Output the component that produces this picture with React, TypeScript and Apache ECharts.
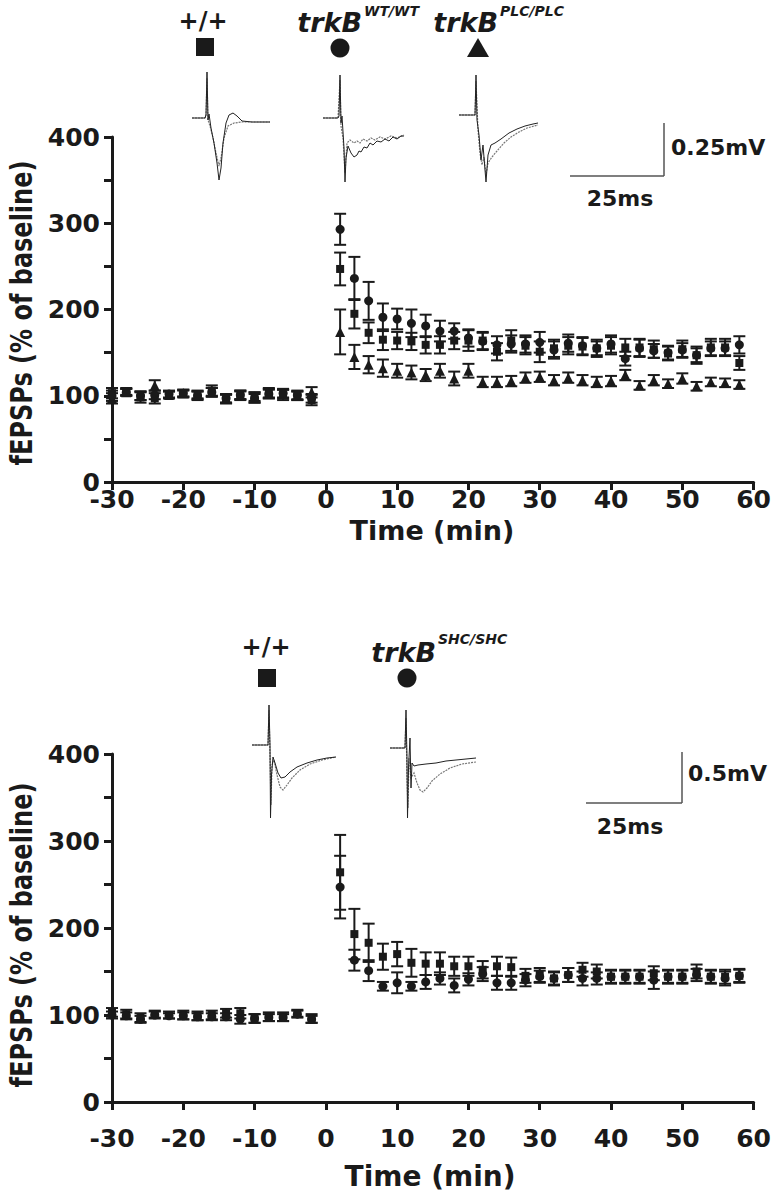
import React, { useEffect, useRef } from "react";
import * as echarts from "echarts";

// ---------- data ----------
const baseTimes = [-30, -28, -26, -24, -22, -20, -18, -16, -14, -12, -10, -8, -6, -4, -2];
const postTimes = [2, 4, 6, 8, 10, 12, 14, 16, 18, 20, 22, 24, 26, 28, 30, 32, 34, 36, 38, 40, 42, 44, 46, 48, 50, 52, 54, 56, 58];

// Top panel: +/+ (square), trkB WT/WT (circle), trkB PLC/PLC (triangle)
const topSqBase = [103, 105, 98, 97, 101, 102, 101, 106, 96, 100, 98, 103, 101, 100, 95];
const topSqBaseErr = [6, 4, 6, 6, 4, 4, 5, 6, 5, 5, 6, 6, 6, 5, 6];
const topSqPost = [247, 195, 173, 165, 164, 163, 159, 159, 164, 164, 164, 151, 164, 158, 151, 155, 158, 157, 155, 158, 156, 156, 154, 149, 154, 147, 156, 156, 138];
const topSqPostErr = [19, 17, 12, 12, 10, 10, 10, 10, 10, 12, 10, 10, 12, 10, 12, 10, 10, 10, 10, 10, 10, 10, 10, 8, 10, 10, 10, 10, 8];

const topCiBase = [100, 104, 100, 101, 102, 103, 100, 104, 97, 101, 97, 102, 103, 101, 97];
const topCiBaseErr = [6, 4, 5, 5, 4, 4, 5, 5, 5, 5, 5, 5, 5, 5, 5];
const topCiPost = [293, 236, 210, 191, 189, 184, 181, 175, 175, 167, 163, 159, 160, 160, 162, 153, 161, 158, 155, 160, 143, 155, 152, 150, 153, 147, 155, 155, 159];
const topCiPostErr = [18, 25, 22, 16, 12, 16, 13, 12, 9, 10, 10, 10, 10, 10, 12, 10, 10, 10, 8, 10, 8, 10, 8, 8, 8, 8, 8, 8, 10];

const topTrBase = [97, 104, 100, 112, 101, 103, 101, 104, 97, 101, 99, 103, 102, 100, 104];
const topTrBaseErr = [6, 4, 5, 6, 4, 4, 4, 5, 5, 5, 5, 5, 5, 5, 6];
const topTrPost = [174, 145, 136, 132, 129, 127, 124, 129, 120, 129, 116, 116, 117, 121, 122, 118, 121, 118, 116, 117, 124, 112, 118, 114, 120, 111, 116, 115, 113];
const topTrPostErr = [26, 14, 10, 10, 8, 8, 7, 8, 8, 8, 6, 6, 6, 6, 6, 6, 6, 6, 6, 6, 6, 5, 6, 5, 6, 5, 5, 5, 5];

// Bottom panel: +/+ (square), trkB SHC/SHC (circle)
const botSqBase = [103, 101, 97, 101, 100, 100, 99, 100, 102, 102, 96, 98, 98, 102, 96];
const botSqBaseErr = [5, 5, 5, 4, 4, 5, 5, 5, 5, 6, 5, 5, 5, 4, 5];
const botSqPost = [264, 193, 183, 167, 170, 160, 159, 159, 156, 156, 152, 156, 155, 145, 146, 142, 146, 152, 150, 144, 144, 144, 148, 144, 144, 150, 144, 144, 145];
const botSqPostErr = [43, 29, 22, 15, 14, 16, 13, 13, 11, 11, 10, 11, 11, 8, 8, 8, 8, 8, 8, 8, 8, 8, 8, 8, 8, 8, 8, 8, 8];

const botCiBase = [100, 99, 95, 100, 99, 99, 98, 98, 98, 95, 96, 97, 97, 101, 95];
const botCiBaseErr = [4, 4, 4, 4, 3, 4, 4, 4, 4, 5, 5, 4, 4, 4, 4];
const botCiPost = [247, 163, 151, 133, 137, 133, 138, 142, 134, 141, 147, 137, 137, 140, 144, 142, 146, 142, 142, 144, 144, 144, 140, 144, 144, 146, 144, 142, 145];
const botCiPostErr = [36, 12, 12, 5, 12, 5, 8, 7, 8, 7, 8, 8, 8, 7, 7, 7, 8, 8, 7, 7, 7, 7, 10, 7, 7, 7, 7, 8, 7];

const yTicks = [0, 100, 200, 300, 400];

// ---------- helpers ----------
const INK = "#1a1a1a";
const FONT = "DejaVu Sans";

const allTimes = baseTimes.concat(postTimes);

function pts(base: number[], post: number[]) {
  const v = base.concat(post);
  return allTimes.map((t, i) => [t, v[i]]);
}
function errs(base: number[], post: number[], eb: number[], ep: number[]) {
  const v = base.concat(post);
  const e = eb.concat(ep);
  return allTimes.map((t, i) => [t, v[i] - e[i], v[i] + e[i]]);
}

const errRender = (params: any, api: any) => {
  const x = api.value(0);
  const lo = api.value(1);
  const hi = api.value(2);
  const a = api.coord([x, hi]);
  const b = api.coord([x, lo]);
  const w = 6;
  const style = { stroke: INK, lineWidth: 2 };
  return {
    type: "group",
    children: [
      { type: "line", shape: { x1: a[0], y1: a[1], x2: b[0], y2: b[1] }, style },
      { type: "line", shape: { x1: a[0] - w, y1: a[1], x2: a[0] + w, y2: a[1] }, style },
      { type: "line", shape: { x1: b[0] - w, y1: b[1], x2: b[0] + w, y2: b[1] }, style },
    ],
  };
};

function errSeries(data: number[][], idx: number) {
  return {
    type: "custom",
    xAxisIndex: idx,
    yAxisIndex: idx,
    renderItem: errRender,
    encode: { x: 0, y: [1, 2] },
    data,
    z: 2,
    silent: true,
  };
}
function dotSeries(data: number[][], idx: number, symbol: string, size: number) {
  return {
    type: "scatter",
    xAxisIndex: idx,
    yAxisIndex: idx,
    symbol,
    symbolSize: size,
    itemStyle: { color: INK, opacity: 1 },
    data,
    z: 3,
    silent: true,
  };
}

// trace shapes (decorative insets), local pixel offsets
const traceTopWildA = [[0,0],[13,0],[14,-3],[15,-46],[16,2],[17,-4],[19,10],[22,25],[25,45],[27,62],[29,50],[31,25],[34,5],[37,-3],[41,-5],[45,-2],[50,3],[60,4],[70,4],[78,4]];
const traceTopWildB = [[0,0],[13,0],[14,-3],[15,-40],[16,2],[18,8],[21,20],[24,35],[27,48],[29,40],[32,20],[36,8],[42,5],[50,4],[60,4],[78,4]];
const traceWTA = [[0,0],[15,0],[16,-2],[17,-43],[18,5],[19,-2],[21,30],[22,64],[23,40],[25,28],[28,35],[31,39],[34,37],[36,33],[38,34],[41,29],[44,30],[47,25],[50,27],[54,23],[58,24],[62,21],[66,23],[70,19],[74,21],[78,18],[81,18]];
const traceWTB = [[0,0],[15,0],[17,-38],[18,8],[20,20],[22,55],[24,25],[27,22],[31,25],[34,23],[37,25],[40,21],[44,23],[48,20],[52,22],[57,19],[62,21],[68,18],[74,20],[81,17]];
const tracePLCA = [[0,0],[16,0],[17,-40],[18,5],[20,20],[22,45],[24,30],[26,55],[27,67],[29,40],[32,30],[36,28],[42,24],[50,18],[58,14],[66,11],[74,9],[79,8]];
const tracePLCB = [[0,0],[16,0],[17,-34],[19,15],[21,38],[23,50],[25,42],[27,60],[29,48],[33,42],[38,36],[45,28],[52,22],[60,17],[68,13],[79,10]];
const traceBotWildA = [[0,0],[16,0],[17,-40],[18,0],[18.5,73],[19.5,30],[21,12],[23,18],[26,28],[29,33],[33,32],[38,27],[45,22],[55,18],[65,15],[75,13],[84,12]];
const traceBotWildB = [[0,0],[16,0],[17,-35],[18,10],[19,60],[20,20],[22,15],[25,30],[28,42],[31,45],[35,40],[40,33],[48,25],[58,19],[70,15],[84,12]];
const traceSHCA = [[0,0],[15,0],[16,-38],[17,10],[17.5,70],[18.5,20],[20,-10],[21,40],[22,15],[24,18],[28,17],[36,16],[46,15],[56,13],[66,12],[76,11],[86,10]];
const traceSHCB = [[0,0],[15,0],[16,-30],[17,30],[18,60],[19,10],[21,30],[24,25],[27,35],[30,42],[33,44],[37,40],[42,33],[50,26],[60,20],[72,16],[86,14]];

function trace(shape: number[][], ox: number, oy: number, dashed: boolean) {
  return {
    type: "polyline",
    shape: { points: shape.map(([dx, dy]) => [ox + dx, oy + dy]) },
    style: {
      stroke: dashed ? "#777" : "#222",
      lineWidth: dashed ? 1.2 : 1,
      fill: null,
      lineDash: dashed ? [2, 1] : null,
    },
    silent: true,
  };
}

function txt(text: string, x: number, y: number, size: number, opts: any = {}) {
  return {
    type: "text",
    x,
    y,
    silent: true,
    style: {
      text,
      fontFamily: FONT,
      fontSize: size,
      fontWeight: opts.weight || "bold",
      fontStyle: opts.italic ? "italic" : "normal",
      fill: INK,
      align: opts.align || "center",
      verticalAlign: "middle",
    },
  };
}

function line(x1: number, y1: number, x2: number, y2: number) {
  return { type: "line", shape: { x1, y1, x2, y2 }, style: { stroke: "#555", lineWidth: 1.5 }, silent: true };
}

function yName(x: number, y: number) {
  return {
    type: "group",
    x,
    y,
    scaleX: 1.25,
    children: [
      {
        type: "text",
        rotation: Math.PI / 2,
        style: {
          text: "fEPSPs (% of baseline)",
          fontFamily: FONT,
          fontSize: 24,
          fontWeight: "bold",
          fill: INK,
          align: "center",
          verticalAlign: "middle",
        },
      },
    ],
  };
}

function makeXAxis(i: number) {
  return {
    type: "value",
    gridIndex: i,
    min: -30,
    max: 60,
    interval: 10,
    axisLine: { show: true, onZero: false, lineStyle: { color: INK, width: 3 } },
    axisTick: { show: true, length: 8, lineStyle: { color: INK, width: 3 } },
    axisLabel: {
      fontFamily: FONT,
      fontWeight: "bold",
      fontSize: 25,
      lineHeight: 16,
      color: INK,
      margin: i === 0 ? 9 : 28,
    },
    splitLine: { show: false },
  };
}
function makeYAxis(i: number) {
  return {
    type: "value",
    gridIndex: i,
    min: 0,
    max: 400,
    interval: 50,
    axisLine: { show: true, onZero: false, lineStyle: { color: INK, width: 3 } },
    axisTick: { show: true, length: 8, lineStyle: { color: INK, width: 3 } },
    axisLabel: {
      fontFamily: FONT,
      fontWeight: "bold",
      fontSize: 25,
      lineHeight: 16,
      color: INK,
      margin: 12,
      formatter: (v: number) => (yTicks.indexOf(v) >= 0 ? String(v) : ""),
    },
    splitLine: { show: false },
  };
}

export default function App() {
  const ref = useRef<HTMLDivElement>(null);
  useEffect(() => {
    if (!ref.current) return;
    const chart = echarts.init(ref.current, undefined, { renderer: "svg" });
    const option: any = {
      animation: false,
      backgroundColor: "#fff",
      grid: [
        { left: 112, right: 9, top: 137, height: 345 },
        { left: 112, right: 17, top: 754, height: 348 },
      ],
      xAxis: [makeXAxis(0), makeXAxis(1)],
      yAxis: [makeYAxis(0), makeYAxis(1)],
      series: [
        errSeries(errs(topTrBase, topTrPost, topTrBaseErr, topTrPostErr), 0),
        errSeries(errs(topSqBase, topSqPost, topSqBaseErr, topSqPostErr), 0),
        errSeries(errs(topCiBase, topCiPost, topCiBaseErr, topCiPostErr), 0),
        dotSeries(pts(topTrBase, topTrPost), 0, "triangle", 10),
        dotSeries(pts(topSqBase, topSqPost), 0, "rect", 8),
        dotSeries(pts(topCiBase, topCiPost), 0, "circle", 9),
        errSeries(errs(botSqBase, botSqPost, botSqBaseErr, botSqPostErr), 1),
        errSeries(errs(botCiBase, botCiPost, botCiBaseErr, botCiPostErr), 1),
        dotSeries(pts(botSqBase, botSqPost), 1, "rect", 8),
        dotSeries(pts(botCiBase, botCiPost), 1, "circle", 9),
      ],
      graphic: [
        // top legend
        txt("+/+", 203, 21, 24),
        { type: "rect", shape: { x: 196, y: 38, width: 18, height: 18 }, style: { fill: INK }, silent: true },
        txt("trkB", 362, 22, 27, { italic: true, align: "right" }),
        txt("WT/WT", 364, 11, 14, { italic: true, align: "left" }),
        { type: "circle", shape: { cx: 340, cy: 48, r: 9.5 }, style: { fill: INK }, silent: true },
        txt("trkB", 498, 22, 27, { italic: true, align: "right" }),
        txt("PLC/PLC", 500, 11, 14, { italic: true, align: "left" }),
        { type: "polygon", shape: { points: [[478, 38], [467, 57], [489, 57]] }, style: { fill: INK }, silent: true },
        // top traces
        trace(traceTopWildB, 192, 118, true),
        trace(traceTopWildA, 192, 118, false),
        trace(traceWTB, 323, 118, true),
        trace(traceWTA, 323, 118, false),
        trace(tracePLCB, 459, 115, true),
        trace(tracePLCA, 459, 115, false),
        // top scale bar
        line(664, 123, 664, 176),
        line(570, 176, 664, 176),
        txt("0.25mV", 671, 147, 22, { align: "left" }),
        txt("25ms", 620, 198, 22),
        // top axis names
        yName(22, 313),
        txt("Time (min)", 432, 530, 27),

        // bottom legend
        txt("+/+", 266, 647, 24),
        { type: "rect", shape: { x: 258, y: 669, width: 18, height: 18 }, style: { fill: INK }, silent: true },
        txt("trkB", 436, 652, 27, { italic: true, align: "right" }),
        txt("SHC/SHC", 438, 639, 14, { italic: true, align: "left" }),
        { type: "circle", shape: { cx: 407, cy: 678, r: 9.5 }, style: { fill: INK }, silent: true },
        // bottom traces
        trace(traceBotWildB, 252, 745, true),
        trace(traceBotWildA, 252, 745, false),
        trace(traceSHCB, 390, 748, true),
        trace(traceSHCA, 390, 748, false),
        // bottom scale bar
        line(682, 752, 682, 803),
        line(586, 803, 682, 803),
        txt("0.5mV", 688, 773, 22, { align: "left" }),
        txt("25ms", 630, 826, 22),
        // bottom axis names
        yName(22, 935),
        txt("Time (min)", 430, 1176, 28),
      ],
    };
    chart.setOption(option);
    return () => chart.dispose();
  }, []);
  return (
    <div
      ref={ref}
      style={{ position: "absolute", left: 0, top: 0, width: 774, height: 1200, background: "#fff" }}
    />
  );
}
